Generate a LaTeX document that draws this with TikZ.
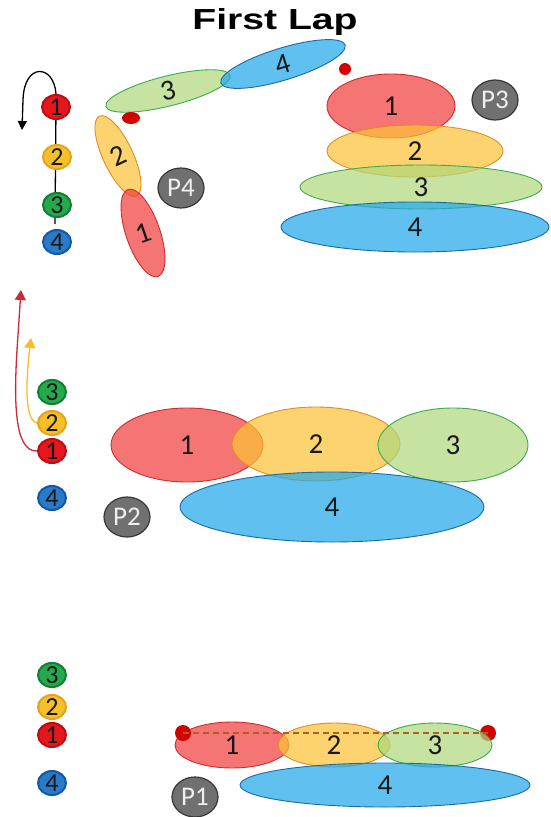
\documentclass[tikz,border=0pt]{standalone}
\usepackage{fontspec}
\setmainfont{Carlito}
\newfontfamily\titlefont{Liberation Sans}
\usetikzlibrary{shapes.geometric,arrows.meta,backgrounds}
\definecolor{redF}{RGB}{241,62,62}
\definecolor{redD}{RGB}{205,45,45}
\definecolor{yelF}{RGB}{251,194,55}
\definecolor{yelD}{RGB}{225,140,40}
\definecolor{grnF}{RGB}{176,216,126}
\definecolor{grnD}{RGB}{60,170,80}
\definecolor{bluF}{RGB}{34,169,234}
\definecolor{bluD}{RGB}{25,105,165}
\definecolor{cR}{RGB}{228,22,30}
\definecolor{cRd}{RGB}{190,12,18}
\definecolor{cY}{RGB}{246,192,40}
\definecolor{cYd}{RGB}{232,162,25}
\definecolor{cG}{RGB}{38,168,78}
\definecolor{cGd}{RGB}{18,128,52}
\definecolor{cB}{RGB}{42,122,200}
\definecolor{cBd}{RGB}{18,88,168}
\definecolor{pG}{RGB}{112,112,112}
\definecolor{pGd}{RGB}{55,55,55}
\definecolor{pT}{RGB}{240,240,240}
\definecolor{dotR}{RGB}{212,0,0}
\definecolor{redA}{RGB}{200,45,55}
\definecolor{yelA}{RGB}{245,190,40}
\definecolor{dashC}{RGB}{175,95,30}
\definecolor{txt}{RGB}{25,25,25}
\begin{document}
\begin{tikzpicture}[x=1pt,y=-1pt,
  ell/.style={ellipse, draw, line width=0.9pt, fill opacity=0.72, text opacity=1, inner sep=0pt, text=txt, font=\fontsize{29}{29}\selectfont},
  eR/.style={ell, fill=redF, draw=redD},
  eY/.style={ell, fill=yelF, draw=yelD},
  eG/.style={ell, fill=grnF, draw=grnD},
  eB/.style={ell, fill=bluF, draw=bluD},
  dig/.style={ellipse, minimum width=28pt, minimum height=24pt, inner sep=0pt, line width=2pt, text=txt, font=\fontsize{26}{26}\selectfont},
  dR/.style={dig, fill=cR, draw=cRd},
  dY/.style={dig, fill=cY, draw=cYd},
  dG/.style={dig, fill=cG, draw=cGd},
  dB/.style={dig, fill=cB, draw=cBd},
  pn/.style={ellipse, minimum width=46pt, minimum height=40pt, inner sep=0pt, fill=pG, draw=pGd, line width=1.2pt, text=pT, font=\fontsize{27}{27}\selectfont},
  rdot/.style={ellipse, fill=dotR, inner sep=0pt, minimum width=#1, minimum height=#1},
  conn/.style={line width=1.3pt},
  dashln/.style={line width=1.2pt, draw=dashC, dash pattern=on 6pt off 4pt}
]
\useasboundingbox (0,0) rectangle (550,817);

\node[font=\titlefont\bfseries\fontsize{29}{29}\selectfont] (title) at (275,22) {\scalebox{1.35}[1]{First Lap}};

% ---------- top section (P4 / P3) ----------
\node[dR] (t1) at (56,107) {1};
\node[dY] (t2) at (57,157) {2};
\node[dG] (t3) at (57,205) {3};
\node[dB] (t4) at (57,242) {4};
\coordinate (tend) at (55,224);
\begin{scope}[on background layer]
  \draw[conn] (t1) -- (tend);
\end{scope}
\draw[conn, -{Triangle[length=9pt,width=9pt]}] (t1.north) .. controls (54,64) and (24,62) .. (23,100) -- (22,130);

\node[eG, minimum width=128pt, minimum height=30pt, rotate=14] (a3) at (168,91) {3};
\node[eB, minimum width=130pt, minimum height=32pt, rotate=17] (a4) at (283,64) {4};
\node[eY, minimum width=30pt, minimum height=88pt, rotate=25] (a2) at (118,156) {2};
\node[eR, minimum width=34pt, minimum height=92pt, rotate=19] (a1) at (143,233) {1};
\node[ellipse, fill=dotR, inner sep=0pt, minimum width=18pt, minimum height=12pt] (d1) at (131,118) {};
\node[rdot=12pt] (d2) at (345,69) {};
\node[pn] (p4) at (181,188) {P4};

\node[eR, minimum width=128pt, minimum height=64pt] (b1) at (391,106) {1};
\node[eY, minimum width=176pt, minimum height=52pt] (b2) at (415,151) {2};
\node[eG, minimum width=242pt, minimum height=44pt] (b3) at (421,187) {3};
\node[eB, minimum width=268pt, minimum height=50pt] (b4) at (415,227) {4};
\node[pn] (p3) at (495,100) {P3};

% ---------- middle section (P2) ----------
\node[dG] (m3) at (52,392) {3};
\node[dY] (m2) at (52,423) {2};
\node[dR] (m1) at (52,451) {1};
\node[dB] (m4) at (52,498) {4};
\begin{scope}[on background layer]
  \draw[conn, redA, -{Triangle[length=10pt,width=11pt]}] (m1.west) .. controls (14,452) and (14,400) .. (17,350) -- (21,290);
  \draw[conn, yelA, -{Triangle[length=10pt,width=11pt]}] (m2.west) .. controls (24,420) and (26,380) .. (31,338);
\end{scope}

\node[eR, minimum width=152pt, minimum height=74pt] (c1) at (187,445) {1};
\node[eY, minimum width=168pt, minimum height=74pt] (c2) at (316,444) {2};
\node[eG, minimum width=150pt, minimum height=74pt] (c3) at (453,445) {3};
\node[eB, minimum width=304pt, minimum height=70pt] (c4) at (332,507) {4};
\node[pn] (p2) at (127,517) {P2};

% ---------- bottom section (P1) ----------
\node[dG] (n3) at (52,675) {3};
\node[dY] (n2) at (52,707) {2};
\node[dR] (n1) at (52,735) {1};
\node[dB] (n4) at (52,783) {4};

\node[rdot=16pt] (eR) at (488,733) {};
\node[eR, minimum width=114pt, minimum height=46pt] (e1) at (232,745) {1};
\node[eY, minimum width=112pt, minimum height=44pt] (e2) at (334,745) {2};
\node[eG, minimum width=114pt, minimum height=44pt] (e3) at (435,745) {3};
\node[eB, minimum width=290pt, minimum height=44pt] (e4) at (385,785) {4};
\node[rdot=16pt] (eL) at (183,733) {};
\draw[dashln] (eL.center) -- (eR.center);
\node[pn] (p1) at (195,797) {P1};
\end{tikzpicture}
\end{document}
